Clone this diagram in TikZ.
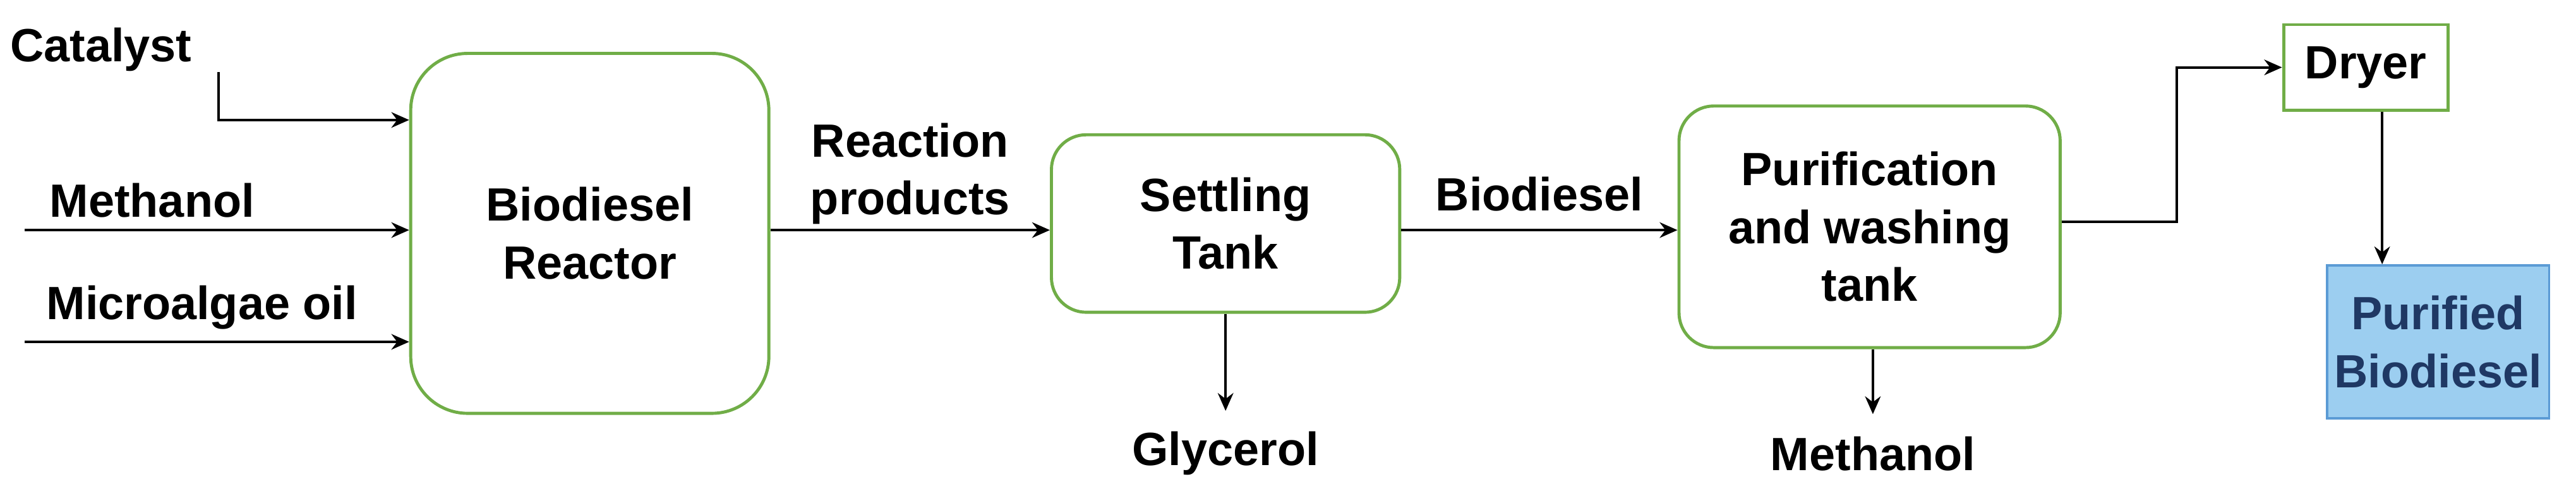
\documentclass[tikz,border=0pt]{standalone}
\usepackage{fontspec}
\setmainfont{Liberation Sans}
\usetikzlibrary{arrows.meta}
\definecolor{boxgreen}{RGB}{112,173,71}
\definecolor{pureblue}{RGB}{156,206,240}
\definecolor{pureedge}{RGB}{91,155,213}
\definecolor{puretext}{RGB}{31,56,100}
\begin{document}
\begin{tikzpicture} [
        x=0.026cm, y=-0.026cm,
        font=\fontsize{21}{26}\selectfont\bfseries,
        unit/.style={draw=boxgreen, line width=1.4pt, rounded corners=0.55cm, align=center},
        flow/.style={-{Stealth[length=8pt,width=7pt]}, line width=1.2pt},
        label/.style={inner sep=0pt, align=center} ]
    \useasboundingbox (0,0) rectangle (1568,306);
    \node[unit, rounded corners=0.9cm, minimum width=218*0.026cm, minimum height=219*0.026cm] (reactor) at (359,142) {Biodiesel\\Reactor};
    \node[unit, minimum width=212*0.026cm, minimum height=108*0.026cm] (settler) at (746,136) {Settling\\Tank};
    \node[unit, minimum width=232*0.026cm, minimum height=147*0.026cm] (washer) at (1138,138) {Purification\\and washing\\tank};
    \node[draw=boxgreen, line width=1.4pt, minimum width=100*0.026cm, minimum height=52*0.026cm] (dryer) at (1440,41) {Dryer};
    \node[draw=pureedge, fill=pureblue, line width=1pt, text=puretext, align=center, minimum width=132*0.026cm, minimum height=93*0.026cm] (product) at (1484,208) {Purified\\Biodiesel};
    % feeds
    \node[label, anchor=west] (catalyst) at (6,30) {Catalyst};
    \node[label, anchor=west] (methanol) at (30,122) {Methanol};
    \node[label, anchor=west] (oil) at (28,187) {Microalgae oil};
    \coordinate (catalystend) at (133,44);
    \coordinate (methanolin) at (15,140);
    \coordinate (oilin) at (15,208);
    \draw[flow] (catalystend) |- (reactor.west |- 0,73);
    \draw[flow] (methanolin) -- (reactor.west |- methanolin);
    \draw[flow] (oilin) -- (reactor.west |- oilin);
    % main line
    \draw[flow] (reactor.east |- 0,140) -- (settler.west |- 0,140) node[label, midway, above=2pt] {Reaction\\products};
    \draw[flow] (settler.east |- 0,140) -- (washer.west |- 0,140) node[label, midway, above=8pt] {Biodiesel};
    \draw[flow] (washer.east |- 0,135) -| (1325,41) -- (dryer.west);
    \draw[flow] (dryer.south -| 1450,0) -- (product.north -| 1450,0);
    % by-products
    \node[label] (glycerol) at (746,276) {Glycerol};
    \node[label] (methanolout) at (1140,276) {Methanol};
    \draw[flow] (settler.south) -- (settler.south |- 0,250);
    \draw[flow] (washer.south -| 1140,0) -- (methanolout.north |- 0,252);
\end{tikzpicture}
\end{document}
